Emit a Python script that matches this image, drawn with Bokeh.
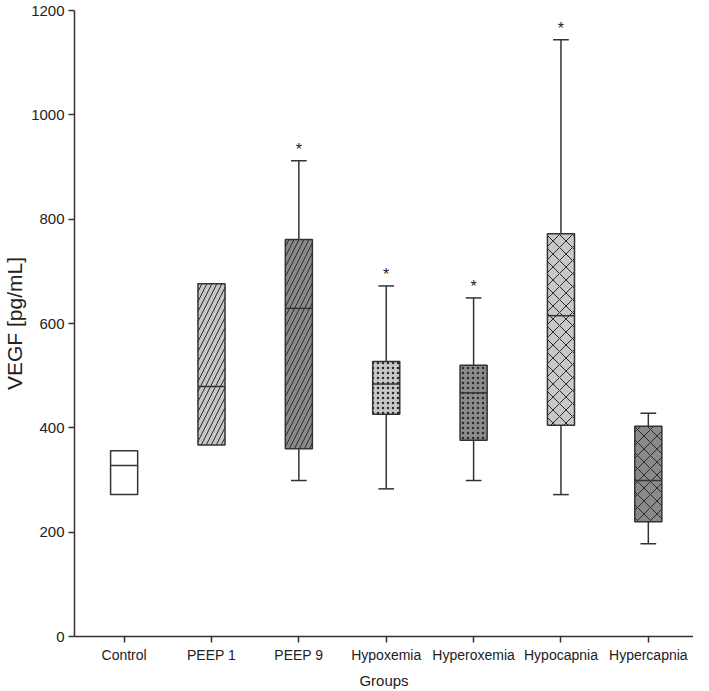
from bokeh.plotting import figure
from bokeh.models import ColumnDataSource, Range1d, FixedTicker
from bokeh.core.properties import value
from bokeh.embed import file_html
from bokeh.resources import INLINE

# ---- data ----
groups = ["Control", "PEEP 1", "PEEP 9", "Hypoxemia", "Hyperoxemia", "Hypocapnia", "Hypercapnia"]
q1 = [272, 367, 360, 426, 376, 405, 220]
median = [328, 479, 629, 484, 467, 615, 299]
q3 = [356, 676, 761, 527, 520, 772, 403]
lower = [None, None, 299, 283, 299, 272, 178]
upper = [None, None, 912, 672, 649, 1144, 428]
star = [False, False, True, True, True, True, False]

# ---- styles ----
fills = ["#ffffff", "#c6c6c6", "#8a8a8a", "#c8c8c8", "#8c8c8c", "#c8c8c8", "#8a8a8a"]
hatches = [" ", "right_diagonal_line", "right_diagonal_line", "dot", "dot", "diagonal_cross", "diagonal_cross"]
hatch_scales = [10, 10, 10, 5, 5, 13, 13]

FONT = "Liberation Sans"
LINE = "#333333"

x = list(range(1, len(groups) + 1))

p = figure(width=693, height=691, output_backend="svg", toolbar_location=None,
           x_range=Range1d(0.432, 7.517), y_range=Range1d(0, 1200),
           min_border_left=70, min_border_right=0, min_border_top=10, min_border_bottom=44)

box_src = ColumnDataSource(dict(x=x, top=q3, bottom=q1, fill=fills, hatch=hatches, hs=hatch_scales))
p.vbar(x="x", top="top", bottom="bottom", width=0.31, source=box_src,
       fill_color="fill", line_color=LINE, line_width=1.5,
       hatch_pattern="hatch", hatch_color="#2a2a2a", hatch_scale="hs", hatch_weight=1)

# medians
p.segment(x0=[v - 0.155 for v in x], x1=[v + 0.155 for v in x], y0=median, y1=median,
          line_color=LINE, line_width=1.5)

# whiskers
wx = [x[i] for i in range(len(x)) if upper[i] is not None]
wq1 = [q1[i] for i in range(len(x)) if upper[i] is not None]
wq3 = [q3[i] for i in range(len(x)) if upper[i] is not None]
wlo = [lower[i] for i in range(len(x)) if upper[i] is not None]
whi = [upper[i] for i in range(len(x)) if upper[i] is not None]
p.segment(x0=wx, x1=wx, y0=wq3, y1=whi, line_color=LINE, line_width=1.5)
p.segment(x0=wx, x1=wx, y0=wlo, y1=wq1, line_color=LINE, line_width=1.5)
cap = 0.09
p.segment(x0=[v - cap for v in wx], x1=[v + cap for v in wx], y0=whi, y1=whi, line_color=LINE, line_width=1.5)
p.segment(x0=[v - cap for v in wx], x1=[v + cap for v in wx], y0=wlo, y1=wlo, line_color=LINE, line_width=1.5)

# significance stars
sx = [x[i] for i in range(len(x)) if star[i]]
sy = [upper[i] for i in range(len(x)) if star[i]]
p.text(x=sx, y=sy, text=["*"] * len(sx), text_align="center", text_baseline="bottom",
       y_offset=-3, text_font=value(FONT), text_font_size="16px", text_color="#222222")

# axes
p.xgrid.visible = False
p.ygrid.visible = False
p.outline_line_color = None

p.xaxis.ticker = FixedTicker(ticks=x)
p.xaxis.major_label_overrides = {v: g for v, g in zip(x, groups)}
p.yaxis.ticker = FixedTicker(ticks=[0, 200, 400, 600, 800, 1000, 1200])

for ax in (p.xaxis[0], p.yaxis[0]):
    ax.axis_line_color = LINE
    ax.axis_line_width = 1.5
    ax.major_tick_line_color = LINE
    ax.major_tick_line_width = 1.5
    ax.major_tick_in = 0
    ax.major_tick_out = 6
    ax.minor_tick_line_color = None
    ax.major_label_text_font = FONT
    ax.major_label_text_color = "#222222"
    ax.axis_label_text_font = FONT
    ax.axis_label_text_font_style = "normal"
    ax.axis_label_text_color = "#222222"
    ax.major_label_standoff = 4

p.xaxis.major_label_text_font_size = "14px"
p.yaxis.major_label_text_font_size = "15px"
p.xaxis.axis_label = "Groups"
p.xaxis.axis_label_text_font_size = "15px"
p.xaxis.axis_label_standoff = 6
p.yaxis.axis_label = "VEGF [pg/mL]"
p.yaxis.axis_label_text_font_size = "21px"
p.yaxis.axis_label_standoff = 2

open("out.html", "w").write(file_html(p, INLINE))
